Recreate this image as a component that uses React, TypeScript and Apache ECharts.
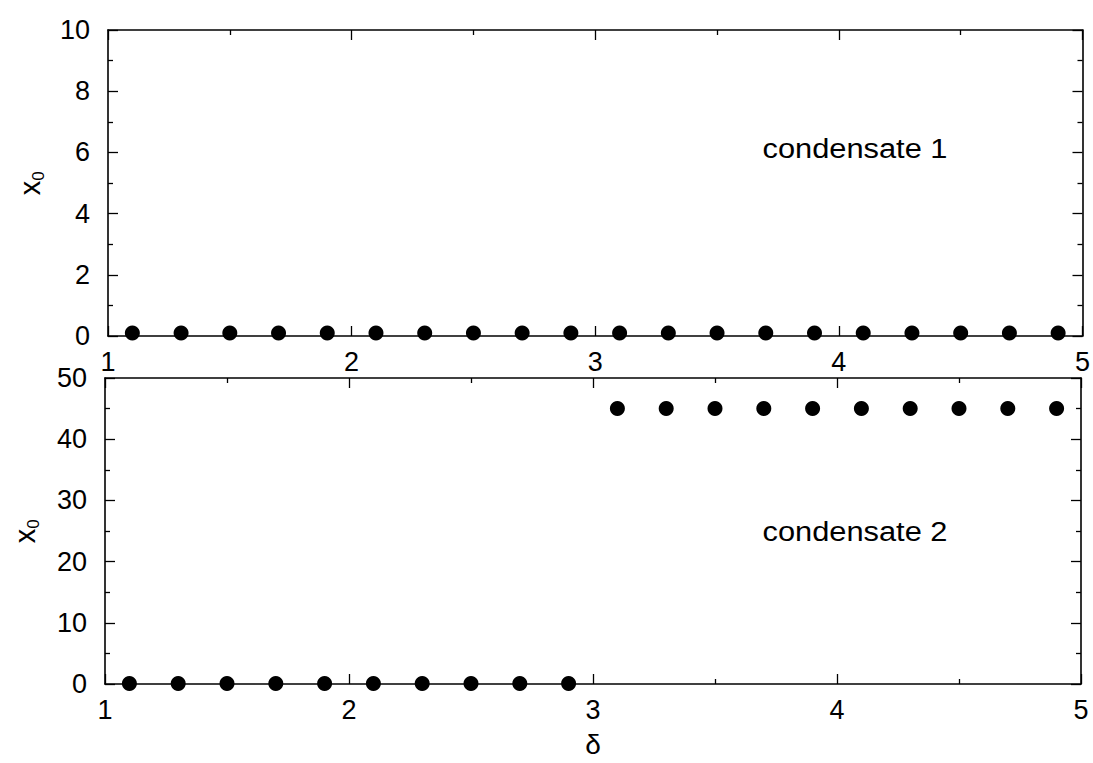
import React, { useEffect, useRef } from "react";
import * as echarts from "echarts";

const deltaValues = [1.1, 1.3, 1.5, 1.7, 1.9, 2.1, 2.3, 2.5, 2.7, 2.9, 3.1, 3.3, 3.5, 3.7, 3.9, 4.1, 4.3, 4.5, 4.7, 4.9];
const condensate1 = [0.1, 0.1, 0.1, 0.1, 0.1, 0.1, 0.1, 0.1, 0.1, 0.1, 0.1, 0.1, 0.1, 0.1, 0.1, 0.1, 0.1, 0.1, 0.1, 0.1];
const condensate2 = [0.1, 0.1, 0.1, 0.1, 0.1, 0.1, 0.1, 0.1, 0.1, 0.1, 45, 45, 45, 45, 45, 45, 45, 45, 45, 45];
const xTicks = [1, 2, 3, 4, 5];
const yTicksTop = [0, 2, 4, 6, 8, 10];
const yTicksBottom = [0, 10, 20, 30, 40, 50];
const panelLabels = ["condensate 1", "condensate 2"];

const FONT = "'Liberation Sans', Arial, Helvetica, sans-serif";

export default function App() {
  const ref = useRef<HTMLDivElement>(null);
  useEffect(() => {
    if (!ref.current) return;
    const chart = echarts.init(ref.current, null, { renderer: "svg" });
    const line = { show: true, lineStyle: { color: "#000", width: 1.6 } };
    const mkX = (gridIndex: number, position: "top" | "bottom", labels: boolean, name?: string) => ({
      type: "value",
      gridIndex,
      position,
      min: xTicks[0],
      max: xTicks[xTicks.length - 1],
      interval: 1,
      axisLine: { ...line, onZero: false },
      axisTick: { show: true, inside: true, length: 10, lineStyle: { color: "#000", width: 1.3 } },
      minorTick: { show: true, splitNumber: 2, length: 5, lineStyle: { color: "#000", width: 1.3 } },
      splitLine: { show: false },
      axisLabel: { show: labels, color: "#000", fontSize: 27, fontFamily: FONT, margin: 12 },
      name: name || "",
      nameLocation: "middle",
      nameGap: 46,
      nameTextStyle: { color: "#000", fontSize: 28, fontFamily: FONT },
    });
    const mkY = (gridIndex: number, position: "left" | "right", labels: boolean, ticks: number[]) => ({
      type: "value",
      gridIndex,
      position,
      min: ticks[0],
      max: ticks[ticks.length - 1],
      interval: ticks[1] - ticks[0],
      axisLine: { ...line, onZero: false },
      axisTick: { show: true, inside: true, length: 10, lineStyle: { color: "#000", width: 1.3 } },
      minorTick: { show: true, splitNumber: 2, length: 5, lineStyle: { color: "#000", width: 1.3 } },
      splitLine: { show: false },
      axisLabel: { show: labels, color: "#000", fontSize: 27, fontFamily: FONT, margin: 18 },
    });
    const subLabel = (cx: number, cy: number) => ({
      type: "group",
      x: cx,
      y: cy,
      rotation: Math.PI / 2,
      children: [
        { type: "text", x: 0, y: 0, style: { text: "x", fontSize: 29, fontFamily: FONT, fill: "#000", align: "center", verticalAlign: "middle" } },
        { type: "text", x: 12, y: 8, style: { text: "0", fontSize: 17, fontFamily: FONT, fill: "#000", align: "center", verticalAlign: "middle" } },
      ],
    });
    const panelText = (i: number, cx: number, cy: number) => ({
      type: "text",
      x: cx,
      y: cy,
      scaleX: 1.1,
      style: { text: panelLabels[i], fontSize: 28, fontFamily: FONT, fill: "#000", align: "center", verticalAlign: "middle" },
    });
    chart.setOption({
      animation: false,
      backgroundColor: "#fff",
      grid: [
        { left: 108, right: 9, top: 30, height: 306 },
        { left: 105, right: 12, top: 378, height: 306 },
      ],
      xAxis: [mkX(0, "bottom", true), mkX(0, "top", false), mkX(1, "bottom", true, "δ"), mkX(1, "top", false)],
      yAxis: [mkY(0, "left", true, yTicksTop), mkY(0, "right", false, yTicksTop), mkY(1, "left", true, yTicksBottom), mkY(1, "right", false, yTicksBottom)],
      series: [
        {
          type: "scatter",
          xAxisIndex: 0,
          yAxisIndex: 0,
          symbol: "circle",
          symbolSize: 15,
          itemStyle: { color: "#000", opacity: 1 },
          data: deltaValues.map((d, i) => [d, condensate1[i]]),
        },
        {
          type: "scatter",
          xAxisIndex: 2,
          yAxisIndex: 2,
          symbol: "circle",
          symbolSize: 15,
          itemStyle: { color: "#000", opacity: 1 },
          data: deltaValues.map((d, i) => [d, condensate2[i]]),
        },
      ],
      graphic: [
        subLabel(30, 188),
        subLabel(25, 536),
        panelText(0, 855, 148),
        panelText(1, 855, 531),
      ],
    });
    return () => chart.dispose();
  }, []);
  return <div ref={ref} style={{ position: "fixed", left: 0, top: 0, width: 1093, height: 763 }} />;
}
